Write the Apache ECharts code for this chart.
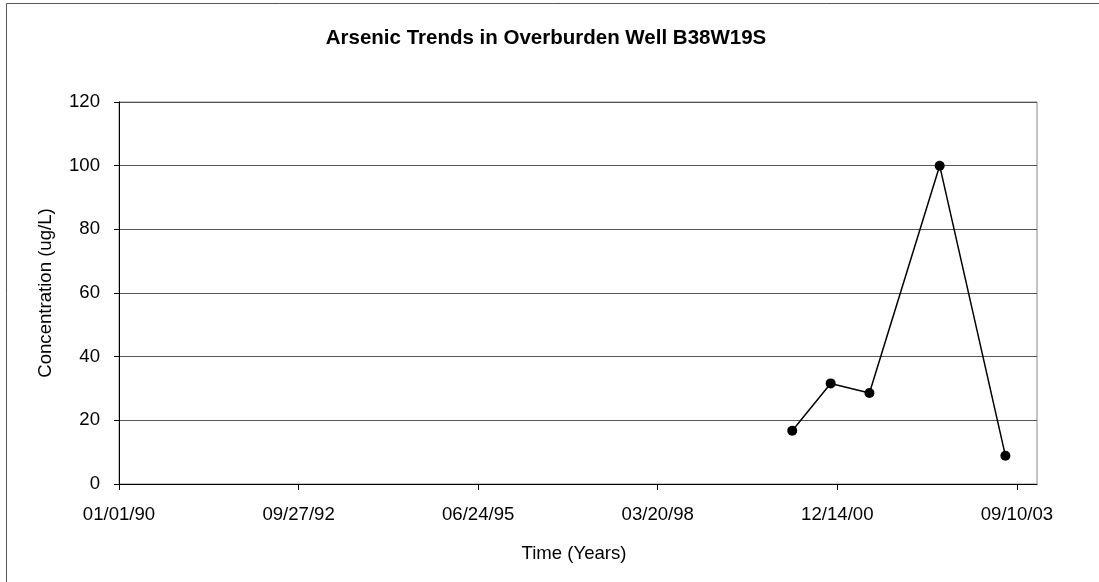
<!DOCTYPE html>
<html>
<head>
<meta charset="utf-8">
<script src="https://cdn.jsdelivr.net/npm/echarts@6/dist/echarts.min.js"></script>
<style>
html,body{margin:0;padding:0;background:#fff;}
#chart{width:1099px;height:582px;}
</style>
</head>
<body>
<div id="chart"></div>
<script>
// Sample dates and arsenic concentrations (ug/L)
const sampleDates = ['2000-04-07', '2000-11-07', '2001-06-11', '2002-07-07', '2003-07-08'];
const concentrations = [16.7, 31.6, 28.6, 100, 8.9];
// X axis: days since 01/01/90, ticks every 1000 days
const baseDate = '1990-01-01';
const xTickDays = [0, 1000, 2000, 3000, 4000, 5000];
const xTickLabels = ['01/01/90', '09/27/92', '06/24/95', '03/20/98', '12/14/00', '09/10/03'];
const xMaxDays = 5112;
const yTicks = [0, 20, 40, 60, 80, 100, 120];

function dayOffset(s) {
  const p = s.split('-').map(Number);
  const b = baseDate.split('-').map(Number);
  return Math.round((Date.UTC(p[0], p[1] - 1, p[2]) - Date.UTC(b[0], b[1] - 1, b[2])) / 86400000);
}
const seriesData = sampleDates.map((d, i) => [dayOffset(d), concentrations[i]]);

const font = 'Liberation Sans, Arial, sans-serif';
const chart = echarts.init(document.getElementById('chart'), null, {renderer: 'canvas'});
chart.setOption({
  animation: false,
  backgroundColor: '#fff',
  title: {
    text: 'Arsenic Trends in Overburden Well B38W19S',
    left: 541, top: 23, textAlign: 'center',
    textStyle: {fontFamily: font, fontSize: 20.5, fontWeight: 'bold', color: '#000'}
  },
  graphic: [{
    type: 'rect', z: -1, silent: true,
    shape: {x: 6.5, y: 3.5, width: 2000, height: 2000},
    style: {fill: 'none', stroke: '#555', lineWidth: 1}
  }],
  grid: {
    left: 119, top: 102, width: 918, height: 382,
    show: true, borderColor: '#888', borderWidth: 1, backgroundColor: 'transparent'
  },
  xAxis: {
    type: 'value', min: 0, max: xMaxDays, interval: 1000,
    name: 'Time (Years)', nameLocation: 'middle', nameGap: 60,
    nameTextStyle: {fontFamily: font, fontSize: 18.6, color: '#000', padding: [0, 8, 0, 0]},
    axisLine: {show: true, onZero: false, lineStyle: {color: '#000', width: 1}},
    axisTick: {show: true, inside: false, length: 6, customValues: xTickDays, lineStyle: {color: '#000'}},
    axisLabel: {
      customValues: xTickDays, margin: 21,
      fontFamily: font, fontSize: 18.6, color: '#000',
      formatter: v => xTickLabels[Math.round(v / 1000)] || ''
    },
    splitLine: {show: false}
  },
  yAxis: {
    type: 'value', min: yTicks[0], max: yTicks[yTicks.length - 1], interval: 20,
    name: 'Concentration (ug/L)', nameLocation: 'middle', nameGap: 64, nameRotate: 90,
    nameTextStyle: {fontFamily: font, fontSize: 18.6, color: '#000'},
    axisLine: {show: true, lineStyle: {color: '#000', width: 1}},
    axisTick: {show: true, inside: false, length: 5, lineStyle: {color: '#000'}},
    axisLabel: {margin: 19, fontFamily: font, fontSize: 18.6, color: '#000'},
    splitLine: {show: true, lineStyle: {color: '#555', width: 1}}
  },
  series: [{
    type: 'line',
    data: seriesData,
    symbol: 'circle', symbolSize: 10,
    itemStyle: {color: '#000'},
    lineStyle: {color: '#000', width: 1.5}
  }]
});
</script>
</body>
</html>
